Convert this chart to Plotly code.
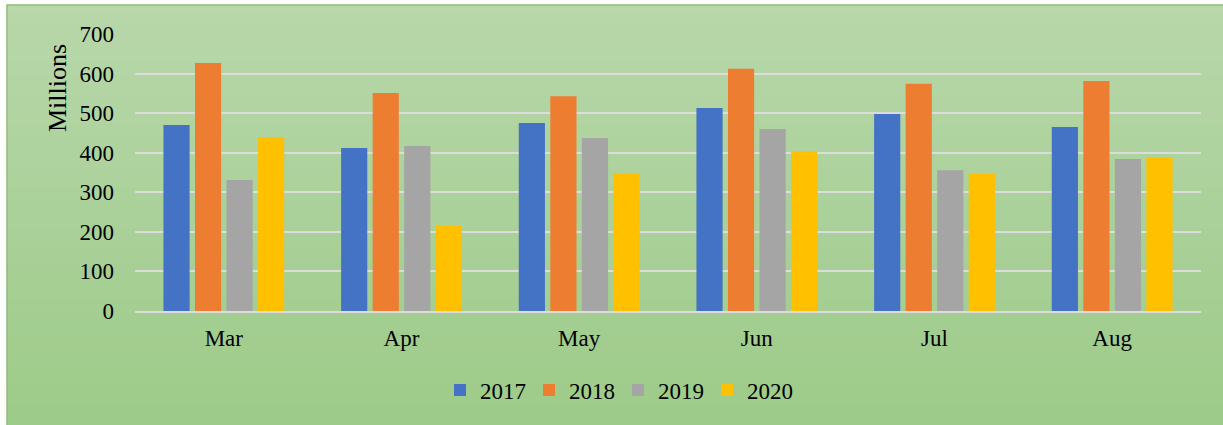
import plotly.graph_objects as go

months = ["Mar", "Apr", "May", "Jun", "Jul", "Aug"]
series_names = ["2017", "2018", "2019", "2020"]
v2017 = [470, 412, 475, 513, 498, 465]
v2018 = [627, 551, 543, 612, 574, 581]
v2019 = [331, 417, 437, 460, 356, 384]
v2020 = [440, 215, 349, 404, 346, 387]
colors = ["#4472C4", "#ED7D31", "#A5A5A5", "#FFC000"]
y_ticks = [0, 100, 200, 300, 400, 500, 600, 700]

W, H = 1223, 425
L, R, T, B = 135, 1201, 34, 311
pw, ph = R - L, B - T

def px_x(p):
    return (p - L) / pw

def px_y(p):
    return (B - p) / ph

SERIF = "Liberation Serif, serif"

fig = go.Figure()
for name, vals, c in zip(series_names, [v2017, v2018, v2019, v2020], colors):
    fig.add_trace(go.Bar(x=months, y=vals, name=name, marker_color=c,
                         marker_line_width=0))

# gradient background strips
shapes = []
top_c = (184, 215, 170)
bot_c = (157, 203, 137)
n = 60
y0p, y1p = 5, 425
for i in range(n):
    a = y0p + (y1p - y0p) * i / n
    b = y0p + (y1p - y0p) * (i + 1) / n + 0.5
    t = i / (n - 1)
    col = tuple(round(top_c[k] + (bot_c[k] - top_c[k]) * t) for k in range(3))
    shapes.append(dict(type="rect", xref="paper", yref="paper",
                       x0=px_x(7), x1=px_x(1224), y0=px_y(b), y1=px_y(a),
                       fillcolor="rgb(%d,%d,%d)" % col, line_width=0,
                       layer="below"))
shapes.append(dict(type="rect", xref="paper", yref="paper",
                   x0=px_x(7), x1=px_x(1226), y0=px_y(428), y1=px_y(5),
                   fillcolor="rgba(0,0,0,0)", line=dict(color="#8fbf74", width=1.5),
                   layer="below"))

fig.update_layout(
    width=W, height=H,
    margin=dict(l=L, r=W - R, t=T, b=H - B, pad=0),
    paper_bgcolor="white",
    plot_bgcolor="rgba(0,0,0,0)",
    font=dict(family=SERIF, size=23, color="black"),
    barmode="group",
    bargap=0.29,
    bargroupgap=0.17,
    shapes=shapes,
    showlegend=True,
    legend=dict(orientation="h", x=px_x(618), xanchor="center",
                y=px_y(390), yanchor="middle", bgcolor="rgba(0,0,0,0)",
                font=dict(family=SERIF, size=23), itemwidth=30,
                entrywidth=44, entrywidthmode="pixels", traceorder="normal"),
    annotations=[dict(text="Millions", textangle=-90, xref="paper", yref="paper",
                      x=px_x(57), y=px_y(88), xanchor="center", yanchor="middle",
                      showarrow=False, font=dict(family=SERIF, size=26))],
    yaxis=dict(range=[0, 700], tickvals=y_ticks, showgrid=True,
               gridcolor="#dcdcdc", gridwidth=1.5, zeroline=False,
               showline=False, ticks="", ticklabelstandoff=20,
               tickfont=dict(family=SERIF, size=23)),
    xaxis=dict(showgrid=False, showline=True, linecolor="#dcdcdc", linewidth=1.5,
               ticks="", ticklabelstandoff=6, tickfont=dict(family=SERIF, size=23)),
)

fig.write_html("out.html", config={"displayModeBar": False},
               post_script="document.body.style.margin='0';document.body.style.overflow='hidden';")
